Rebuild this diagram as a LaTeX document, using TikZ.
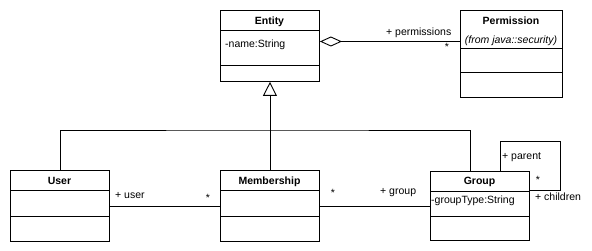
\documentclass[tikz,border=0pt]{standalone}
\usepackage{fontspec}
\setmainfont{Liberation Sans}
\usetikzlibrary{arrows.meta}

% draws the two compartment separators of a class box
\newcommand\classlines[3]{%
  \draw[sep] ([yshift=-#2pt]#1.north west) -- ([yshift=-#2pt]#1.north east);
  \draw[sep] ([yshift=-#3pt]#1.north west) -- ([yshift=-#3pt]#1.north east);}

\begin{document}
\begin{tikzpicture}[x=1pt,y=-1pt,
  cls/.style={draw, line width=0.9pt, rectangle, inner sep=0pt, anchor=north west},
  sep/.style={line width=0.9pt},
  wire/.style={line width=0.9pt},
  txt/.style={font=\fontsize{10.5}{12}\selectfont, inner sep=0pt},
  title/.style={txt, font=\fontsize{10.5}{12}\selectfont\bfseries, anchor=base},
  attr/.style={txt, anchor=base west},
  role/.style={txt, anchor=base west},
  mult/.style={txt, anchor=center},
]
\useasboundingbox[fill=white] (0,0) rectangle (592,251);

% class boxes
\node[cls, minimum width=99pt, minimum height=71pt]  (entity)     at (220,10)  {};
\node[cls, minimum width=102pt, minimum height=87pt] (permission) at (460,10)  {};
\node[cls, minimum width=99pt, minimum height=71pt]  (user)       at (10,170)  {};
\node[cls, minimum width=99pt, minimum height=71pt]  (membership) at (220,170) {};
\node[cls, minimum width=99pt, minimum height=69pt]  (group)      at (430,171) {};

\classlines{entity}{20}{55}
\classlines{permission}{38}{62}
\classlines{user}{20}{46}
\classlines{membership}{20}{46}
\classlines{group}{20}{45}

% class names and attributes
\node[title] (entityName) at (269.5,25) {Entity};
\node[attr]  (entityAttr) at (225,47.3) {-name:String};
\node[title] (permName)   at (511,25) {Permission};
\node[txt, anchor=base, font=\fontsize{10.5}{12}\selectfont\itshape] (permPkg) at (511,43.5) {(from java::security)};
\node[title] (userName)   at (59.5,185) {User};
\node[title] (memberName) at (269.5,185) {Membership};
\node[title] (groupName)  at (479.5,185) {Group};
\node[attr]  (groupAttr)  at (431,204) {-groupType:String};

% aggregation Entity <>-- Permission
\coordinate (aggY) at (0,41.5);
\coordinate (aggStart) at (entity.east |- aggY);
\coordinate (aggEnd) at (permission.west |- aggY);
\draw[wire, {Diamond[open,length=22pt,width=10pt]}-] (aggStart) -- (aggEnd);
\node[role] (permRole) at (386,36) {+ permissions};
\node[mult] (permMult) at (447,47) {*};

% generalization to Entity
\draw[wire, -{Triangle[open,length=14pt,width=14pt]}] (membership.north) -- (entity.south);
\coordinate (hub) at (269.5,130);
\draw[wire] (user.north) |- (hub) -| ([xshift=40pt]group.north west);

% associations
\draw[wire] (user.east) -- (membership.west);
\node[role] (userRole) at (115,198.5) {+ user};
\node[mult] (userMult) at (208,198) {*};

\draw[wire] (membership.east) -- (group.west);
\node[mult] (groupMult) at (333,193) {*};
\node[role] (groupRole) at (380,194) {+ group};

% self association on Group
\coordinate (loop) at (560,141);
\draw[wire] ([xshift=70pt]group.north west) |- (loop) |- ([yshift=-19pt]group.north east);
\node[role] (parentRole) at (502,159.5) {+ parent};
\node[mult] (childMult) at (538,180) {*};
\node[role] (childRole) at (535,200.5) {+ children};
\end{tikzpicture}
\end{document}
